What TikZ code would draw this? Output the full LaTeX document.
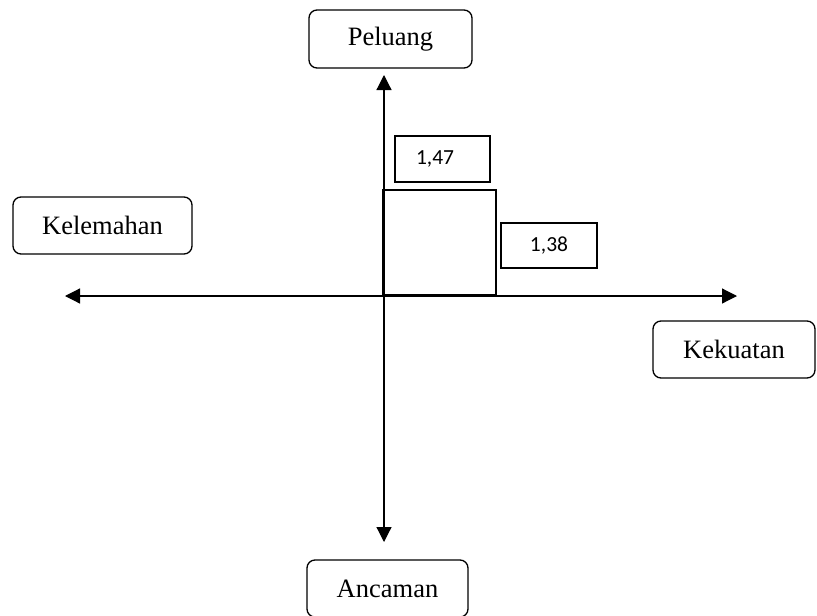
\documentclass[tikz,border=0pt]{standalone}
\usepackage{fontspec}
\setmainfont{Liberation Serif}
\newfontfamily\calib{Carlito}
\usetikzlibrary{arrows.meta}
\tikzset{
  quad/.style={draw, line width=1.3pt, rounded corners=8pt, inner sep=0pt, font=\fontsize{26.5}{30}\selectfont},
  valbox/.style={draw, line width=1.3pt, inner sep=0pt, font=\calib\fontsize{21.5}{25}\selectfont},
  axis/.style={line width=1.2pt, {Triangle[length=15pt,width=15pt]}-{Triangle[length=15pt,width=15pt]}},
}
\begin{document}
\begin{tikzpicture}[x=1pt,y=-1pt]
\useasboundingbox (0,0) rectangle (817,616);
\node[quad, minimum width=163pt, minimum height=58pt] (pel) at (390.5,39) {Peluang};
\node[quad, minimum width=179pt, minimum height=57pt] (kel) at (102.5,225.5) {Kelemahan};
\node[quad, minimum width=162pt, minimum height=57pt] (kek) at (734,349.5) {Kekuatan};
\node[quad, minimum width=161pt, minimum height=57pt] (anc) at (387.5,588.5) {Ancaman};
\node[valbox, minimum width=95pt, minimum height=46pt, text width=95pt, align=left] (v1) at (442.5,159) {\hspace*{21pt}1,47};
\node[valbox, minimum width=96pt, minimum height=45pt] (v2) at (549,245.5) {1,38};
\node[draw, line width=1.3pt, minimum width=113pt, minimum height=105pt, inner sep=0pt] (sq) at (439.5,242.5) {};
\coordinate (L) at (65,296);
\coordinate (R) at (737,296);
\coordinate (T) at (384,75);
\coordinate (B) at (384,542);
\draw[axis] (L) -- (R);
\draw[axis] (B) -- (T);
\end{tikzpicture}
\end{document}
